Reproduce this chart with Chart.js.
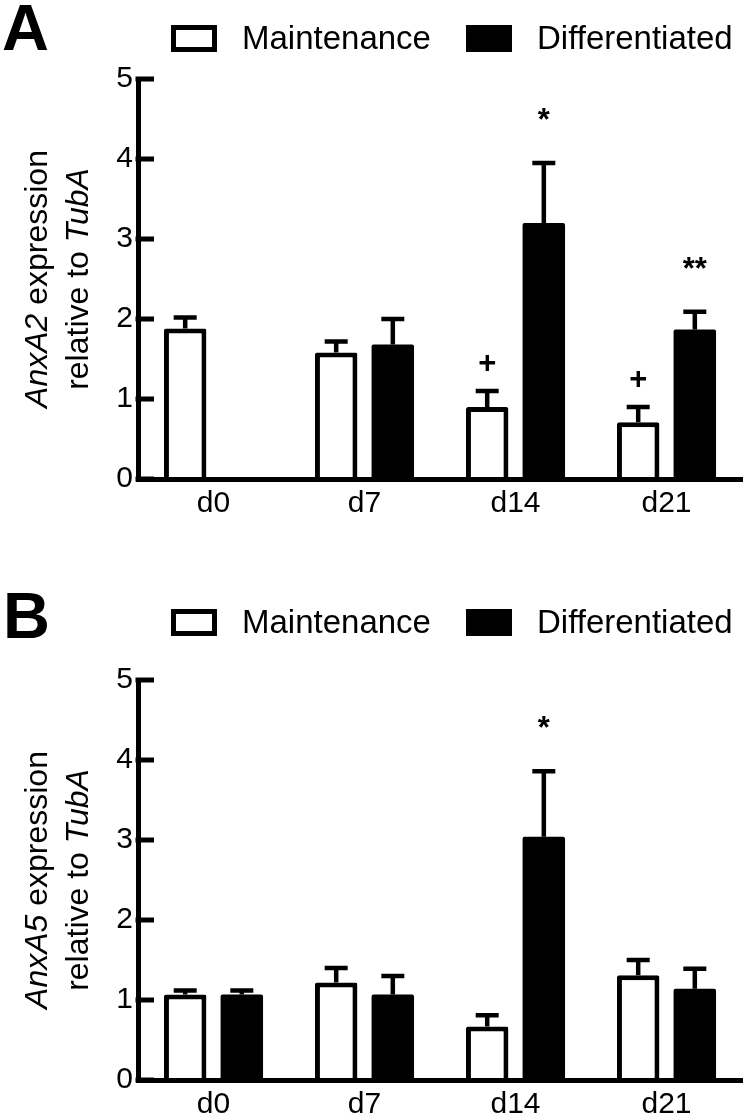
<!DOCTYPE html>
<html>
<head>
<meta charset="utf-8">
<script src="https://cdn.jsdelivr.net/npm/chart.js@4.4.1/dist/chart.umd.min.js"></script>
<style>
  html, body { margin: 0; padding: 0; background: #fff; }
  .panel { position: absolute; left: 0; width: 744px; height: 560px; }
</style>
</head>
<body>
<div class="panel" style="top:0"><canvas id="chartA" width="744" height="560"></canvas></div>
<div class="panel" style="top:559px"><canvas id="chartB" width="744" height="560"></canvas></div>
<script>
// values: mean and upward error (SEM)
const days = ["d0", "d7", "d14", "d21"];
const yTicks = [0, 1, 2, 3, 4, 5];
const seriesNames = ["Maintenance", "Differentiated"];

const anxA2Maint = [1.88, 1.58, 0.90, 0.71];
const anxA2MaintErr = [0.14, 0.14, 0.20, 0.19];
const anxA2Diff = [null, 1.68, 3.20, 1.87];
const anxA2DiffErr = [null, 0.32, 0.75, 0.22];
const anxA2MaintMarks = ["", "", "+", "+"];
const anxA2DiffMarks = ["", "", "*", "**"];

const anxA5Maint = [1.07, 1.22, 0.67, 1.31];
const anxA5MaintErr = [0.05, 0.18, 0.14, 0.19];
const anxA5Diff = [1.07, 1.07, 3.04, 1.14];
const anxA5DiffErr = [0.05, 0.23, 0.82, 0.25];
const anxA5MaintMarks = ["", "", "", ""];
const anxA5DiffMarks = ["", "", "*", ""];

const FONT = "'Liberation Sans', Arial, Helvetica, sans-serif";

// error bars, significance marks, inward y ticks, legend, panel letter, axis title
const figurePlugin = {
  id: "figure",
  afterDatasetsDraw(chart) {
    const ctx = chart.ctx;
    const y = chart.scales.y;
    chart.data.datasets.forEach((ds, di) => {
      const meta = chart.getDatasetMeta(di);
      meta.data.forEach((bar, i) => {
        const v = ds.data[i];
        if (v == null) return;
        const top = y.getPixelForValue(v + ds.err[i]);
        ctx.save();
        ctx.strokeStyle = "#000";
        ctx.lineWidth = 4.5;
        ctx.beginPath();
        ctx.moveTo(bar.x, bar.y);
        ctx.lineTo(bar.x, top);
        ctx.moveTo(bar.x - 11.5, top);
        ctx.lineTo(bar.x + 11.5, top);
        ctx.stroke();
        const m = ds.marks[i];
        if (m) {
          ctx.font = "bold 31px " + FONT;
          ctx.fillStyle = "#000";
          ctx.textAlign = "center";
          ctx.textBaseline = "alphabetic";
          const tm = ctx.measureText(m);
          const cy = top - (m === "+" ? 29 : 49);
          ctx.fillText(m, bar.x, cy + (tm.actualBoundingBoxAscent - tm.actualBoundingBoxDescent) / 2);
        }
        ctx.restore();
      });
    });
  },
  afterDraw(chart, args, opts) {
    const ctx = chart.ctx;
    const area = chart.chartArea;
    const y = chart.scales.y;
    ctx.save();
    ctx.strokeStyle = "#000";
    ctx.fillStyle = "#000";

    // tick marks point into the plot
    ctx.lineWidth = 5;
    ctx.beginPath();
    y.ticks.forEach(t => {
      const py = y.getPixelForValue(t.value);
      ctx.moveTo(area.left - 2.5, py);
      ctx.lineTo(area.left + 16, py);
    });
    ctx.stroke();

    // panel letter
    ctx.font = "bold 65px " + FONT;
    ctx.textAlign = "left";
    ctx.textBaseline = "alphabetic";
    ctx.fillText(opts.letter, opts.letterX, opts.letterBaseline);

    // legend
    ctx.font = "33px " + FONT;
    ctx.textBaseline = "middle";
    chart.data.datasets.forEach((ds, i) => {
      const bx = opts.legendBoxX[i];
      const by = opts.legendY - 13.5;
      if (ds.backgroundColor === "#000") {
        ctx.fillRect(bx, by, 46, 27);
      } else {
        ctx.lineWidth = 5;
        ctx.strokeRect(bx + 2.5, by + 2.5, 41, 22);
      }
      ctx.fillText(ds.label, opts.legendTextX[i], opts.legendY + 1);
    });

    // y-axis title, two lines with italic gene names
    const cy = (area.top + area.bottom) / 2;
    ctx.translate(0, cy);
    ctx.rotate(-Math.PI / 2);
    ctx.textBaseline = "alphabetic";
    opts.titleLines.forEach((parts, li) => {
      let total = 0;
      parts.forEach(p => {
        ctx.font = (p.italic ? "italic " : "") + "32px " + FONT;
        total += ctx.measureText(p.text).width;
      });
      let x = -total / 2;
      parts.forEach(p => {
        ctx.font = (p.italic ? "italic " : "") + "32px " + FONT;
        ctx.fillText(p.text, x, opts.titleBaselines[li]);
        x += ctx.measureText(p.text).width;
      });
    });
    ctx.restore();
  }
};

function makeChart(id, maint, maintErr, maintMarks, diff, diffErr, diffMarks, layout) {
  const tickFont = { family: FONT, size: 30 };
  return new Chart(document.getElementById(id), {
    type: "bar",
    data: {
      labels: days,
      datasets: [
        {
          label: seriesNames[0], data: maint, err: maintErr, marks: maintMarks,
          backgroundColor: "#fff", borderWidth: 5
        },
        {
          label: seriesNames[1], data: diff, err: diffErr, marks: diffMarks,
          backgroundColor: "#000", borderWidth: 0
        }
      ]
    },
    options: {
      responsive: false,
      animation: false,
      layout: { padding: { top: layout.plotTop, left: 0, right: 2, bottom: 0 } },
      datasets: {
        bar: {
          borderColor: "#000",
          borderRadius: 2,
          borderSkipped: "bottom",
          inflateAmount: 0,
          categoryPercentage: 0.75,
          barPercentage: 0.75
        }
      },
      scales: {
        x: {
          offset: true,
          grid: { display: false, drawTicks: false },
          border: { display: true, color: "#000", width: 5, z: 1 },
          ticks: { color: "#000", font: tickFont, padding: 7 },
          afterFit: s => { s.height = 560 - layout.plotBottom; }
        },
        y: {
          min: 0,
          max: 5,
          afterBuildTicks: s => { s.ticks = yTicks.map(v => ({ value: v })); },
          grid: { display: false, drawTicks: false },
          border: { display: true, color: "#000", width: 5, z: 1 },
          ticks: { color: "#000", font: tickFont, padding: 5 },
          afterFit: s => { s.width = 138; }
        }
      },
      plugins: {
        legend: { display: false },
        tooltip: { enabled: false },
        figure: {
          letter: layout.letter,
          letterX: layout.letterX,
          letterBaseline: layout.letterBaseline,
          legendY: layout.legendY,
          legendBoxX: [171, 466],
          legendTextX: [242, 537],
          titleLines: layout.titleLines,
          titleBaselines: [47, 88]
        }
      }
    },
    plugins: [figurePlugin]
  });
}

makeChart("chartA", anxA2Maint, anxA2MaintErr, anxA2MaintMarks, anxA2Diff, anxA2DiffErr, anxA2DiffMarks, {
  plotTop: 79, plotBottom: 479, legendY: 38.5,
  letter: "A", letterX: 2, letterBaseline: 50,
  titleLines: [
    [{ text: "AnxA2", italic: true }, { text: " expression", italic: false }],
    [{ text: "relative to ", italic: false }, { text: "TubA", italic: true }]
  ]
});

makeChart("chartB", anxA5Maint, anxA5MaintErr, anxA5MaintMarks, anxA5Diff, anxA5DiffErr, anxA5DiffMarks, {
  plotTop: 121, plotBottom: 521, legendY: 63.5,
  letter: "B", letterX: 3, letterBaseline: 79,
  titleLines: [
    [{ text: "AnxA5", italic: true }, { text: " expression", italic: false }],
    [{ text: "relative to ", italic: false }, { text: "TubA", italic: true }]
  ]
});
</script>
</body>
</html>
